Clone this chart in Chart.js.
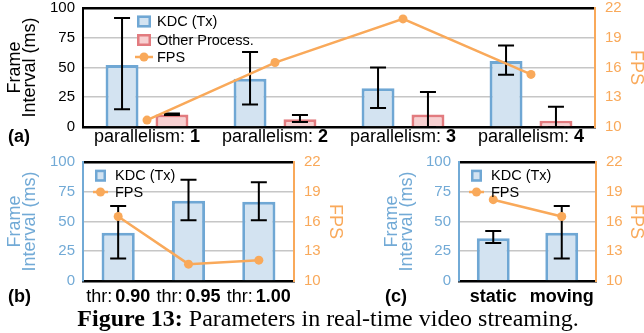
<!DOCTYPE html>
<html><head><meta charset="utf-8">
<script src="https://cdn.jsdelivr.net/npm/chart.js@4"></script>
<style>
body{margin:0;width:644px;height:333px;background:#fff;position:relative;overflow:hidden}
canvas{position:absolute}
#cap{position:absolute;left:6px;width:644px;top:307px;line-height:22px;text-align:center;font-size:24px;font-family:'Liberation Serif','Times New Roman',serif;color:#000;white-space:nowrap}
</style></head><body>
<canvas id="ca" width="644" height="150" style="left:0;top:0"></canvas>
<canvas id="cb" width="343" height="160" style="left:0;top:150px"></canvas>
<canvas id="cc" width="267" height="160" style="left:377px;top:150px"></canvas>
<div id="cap"><b>Figure 13:</b> Parameters in real-time video streaming.</div>
<script>
// (a) parallelism
const parLabels = ['1', '2', '3', '4'];
const kdcA = [52, 40.5, 32.5, 55.5];
const kdcALo = [15, 19, 16, 44];
const kdcAHi = [91.5, 63, 50, 68.5];
const otherA = [10.5, 6.5, 10.5, 5.3];
const otherALo = [10, 4.2, 0, 0];
const otherAHi = [11.3, 10, 29.4, 17];
const fpsA = [10.7, 16.5, 20.9, 15.3];
// (b) threshold
const thrLabels = ['0.90', '0.95', '1.00'];
const kdcB = [40.5, 67.5, 66.5];
const kdcBLo = [19, 51, 51];
const kdcBHi = [63, 85, 83];
const fpsB = [16.5, 11.7, 12.1];
// (c) motion
const motionLabels = ['static', 'moving'];
const kdcC = [36, 40.5];
const kdcCLo = [32, 19];
const kdcCHi = [42, 63];
const fpsC = [18.2, 16.5];

const BLACK='#000', GRID='#c6c6c6', BLUE='#72aad6', ORANGE='#f9a95a';
const KDC_FILL='#d3e3f1', KDC_LINE='#6fa7d4', OTH_FILL='#f7d0d1', OTH_LINE='#e27b7f';
const SANS = "'Liberation Sans', Arial, sans-serif";
Chart.defaults.font.family = SANS;

function scales(leftW, rightW, xH, leftColor){
  return {
    x:{offset:true,ticks:{display:false},grid:{display:false,drawTicks:false},
       border:{color:BLACK,width:2.5},
       afterFit:s=>{s.height=xH;s.paddingLeft=0;s.paddingRight=0}},
    y:{position:'left',min:0,max:100,
       ticks:{stepSize:25,color:leftColor,font:{size:15},padding:8},
       grid:{drawTicks:false,
             color:c=>c.tick.value===100?BLACK:(c.tick.value===0?'rgba(0,0,0,0)':GRID),
             lineWidth:c=>c.tick.value===100?2.5:1.6},
       border:{color:leftColor===BLACK?BLACK:BLUE,width:2},
       title:{display:true,text:['Frame','Interval (ms)'],color:leftColor,
              font:{size:18,lineHeight:0.85},padding:{top:7,bottom:0}},
       afterFit:s=>{s.width=leftW;s.paddingTop=0;s.paddingBottom=0}},
    y1:{position:'right',min:10,max:22,
       ticks:{stepSize:3,color:ORANGE,font:{size:15},padding:10},
       grid:{display:false,drawTicks:false},
       border:{color:ORANGE,width:2},
       title:{display:true,text:'FPS',color:ORANGE,font:{size:18,lineHeight:0.85},padding:{top:0,bottom:0}},
       afterFit:s=>{s.width=rightW;s.paddingTop=0;s.paddingBottom=0}}
  };
}

// error bars, legend, bold/regular tick labels, panel letter
const extras = {
  id:'extras',
  afterDatasetDraw(chart, args){
    const ds = chart.data.datasets[args.index];
    if(!ds.errLo) return;
    const ctx = chart.ctx, y = chart.scales.y;
    ctx.save(); ctx.strokeStyle=BLACK; ctx.lineWidth=2;
    args.meta.data.forEach((bar,i)=>{
      const x = bar.x, lo = y.getPixelForValue(ds.errLo[i]), hi = y.getPixelForValue(ds.errHi[i]);
      ctx.beginPath();
      ctx.moveTo(x,lo); ctx.lineTo(x,hi);
      ctx.moveTo(x-8,lo); ctx.lineTo(x+8,lo);
      ctx.moveTo(x-8,hi); ctx.lineTo(x+8,hi);
      ctx.stroke();
    });
    ctx.restore();
  },
  afterDraw(chart, args, o){
    const ctx = chart.ctx;
    ctx.save();
    // legend
    const L = o.legend;
    ctx.font = `14.5px ${SANS}`; ctx.textBaseline='middle'; ctx.textAlign='left'; ctx.fillStyle=BLACK;
    L.items.forEach((it,i)=>{
      const cy = L.rows[i];
      if(it.type==='bar'){
        ctx.fillStyle=it.fill; ctx.fillRect(L.x, cy-L.bh/2, L.bw, L.bh);
        ctx.strokeStyle=it.stroke; ctx.lineWidth=2.5; ctx.strokeRect(L.x+1.25, cy-L.bh/2+1.25, L.bw-2.5, L.bh-2.5);
      } else {
        ctx.strokeStyle=ORANGE; ctx.lineWidth=2.5;
        ctx.beginPath(); ctx.moveTo(L.x-2,cy); ctx.lineTo(L.x+L.bw+2,cy); ctx.stroke();
        ctx.fillStyle=ORANGE; ctx.beginPath(); ctx.arc(L.x+L.bw/2,cy,4.5,0,Math.PI*2); ctx.fill();
      }
      ctx.fillStyle=BLACK; ctx.fillText(it.text, L.x+20, cy+0.5);
    });
    // x labels
    const xs = chart.scales.x;
    o.labels.forEach((segs,i)=>{
      const cx = xs.getPixelForTick(i);
      const fonts = segs.map(s=>`${s.b?'bold ':''}18px ${SANS}`);
      let w = 0;
      segs.forEach((s,k)=>{ctx.font=fonts[k]; w += ctx.measureText(s.t).width + (s.gap||0);});
      let x = cx - w/2;
      segs.forEach((s,k)=>{ctx.font=fonts[k]; ctx.fillStyle=BLACK; ctx.fillText(s.t,x,o.labelY); x += ctx.measureText(s.t).width + (s.gap||0);});
    });
    // panel letter
    ctx.font = `bold 18px ${SANS}`; ctx.fillStyle=BLACK;
    ctx.fillText(o.letter.t, o.letter.x, o.letter.y);
    ctx.restore();
  }
};

function barSet(label, data, lo, hi, fill, line, order){
  return {type:'bar',label,data,errLo:lo,errHi:hi,backgroundColor:fill,borderColor:line,
          borderWidth:3,yAxisID:'y',order};
}
function fpsSet(data){
  return {type:'line',label:'FPS',data,yAxisID:'y1',borderColor:ORANGE,backgroundColor:ORANGE,
          borderWidth:2.5,pointRadius:4.5,pointBorderWidth:0,tension:0,order:0};
}
function common(top, extraOpts, sc){
  return {responsive:false,animation:false,layout:{padding:{top,left:0,right:0,bottom:0}},
          plugins:{legend:{display:false},tooltip:{enabled:false},extras:extraOpts},scales:sc};
}

// chart (a)
const itemsA = [{type:'bar',text:'KDC (Tx)',fill:KDC_FILL,stroke:KDC_LINE},
                {type:'bar',text:'Other Process.',fill:OTH_FILL,stroke:OTH_LINE},
                {type:'line',text:'FPS'}];
const dsA = [barSet('KDC (Tx)',kdcA,kdcALo,kdcAHi,KDC_FILL,KDC_LINE,1),
             barSet('Other Process.',otherA,otherALo,otherAHi,OTH_FILL,OTH_LINE,2),
             fpsSet(fpsA)];
dsA[0].categoryPercentage=0.78; dsA[0].barPercentage=0.66;
dsA[1].categoryPercentage=0.78; dsA[1].barPercentage=0.66;
new Chart(document.getElementById('ca'),{
  type:'bar', data:{labels:parLabels,datasets:dsA}, plugins:[extras],
  options:common(8,{
    legend:{x:137,rows:[21.5,40,57],bw:14,bh:12,items:itemsA},
    labels:parLabels.map(v=>[{t:'parallelism: '},{t:v,b:true}]), labelY:137.5,
    letter:{t:'(a)',x:8,y:137.5}
  }, scales(83,49,23,BLACK))
});

// chart (b)
const itemsBC = [{type:'bar',text:'KDC (Tx)',fill:KDC_FILL,stroke:KDC_LINE},{type:'line',text:'FPS'}];
const dsB = [barSet('KDC (Tx)',kdcB,kdcBLo,kdcBHi,KDC_FILL,KDC_LINE,1), fpsSet(fpsB)];
dsB[0].categoryPercentage=0.8; dsB[0].barPercentage=0.59;
new Chart(document.getElementById('cb'),{
  type:'bar', data:{labels:thrLabels,datasets:dsB}, plugins:[extras],
  options:common(12,{
    legend:{x:95,rows:[25.7,42],bw:11,bh:12,items:itemsBC},
    labels:thrLabels.map(v=>[{t:'thr:',gap:3},{t:v,b:true}]), labelY:147.5,
    letter:{t:'(b)',x:8,y:147.5}
  }, scales(83,49,29,BLUE))
});

// chart (c)
const dsC = [barSet('KDC (Tx)',kdcC,kdcCLo,kdcCHi,KDC_FILL,KDC_LINE,1), fpsSet(fpsC)];
dsC[0].categoryPercentage=0.8; dsC[0].barPercentage=0.6;
new Chart(document.getElementById('cc'),{
  type:'bar', data:{labels:motionLabels,datasets:dsC}, plugins:[extras],
  options:common(12,{
    legend:{x:94,rows:[25.7,42],bw:11,bh:12,items:itemsBC},
    labels:motionLabels.map(v=>[{t:v,b:true}]), labelY:147.5,
    letter:{t:'(c)',x:8,y:147.5}
  }, scales(82,48,29,BLUE))
});
</script>
</body></html>
